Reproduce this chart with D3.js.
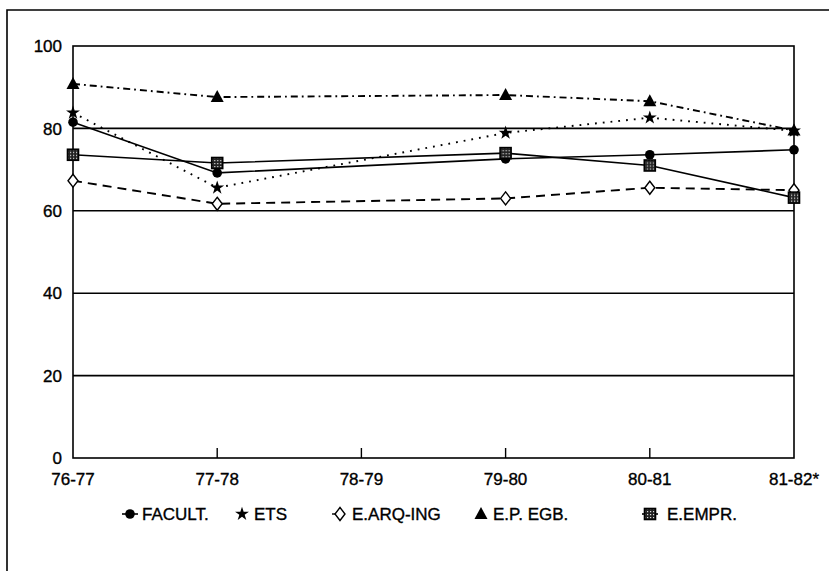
<!DOCTYPE html>
<html><head><meta charset="utf-8">
<script src="https://cdn.jsdelivr.net/npm/d3@7"></script>
<style>
html,body{margin:0;padding:0;background:#fff;}
svg{display:block;}
text{font-family:"Liberation Sans",Arial,Helvetica,sans-serif;fill:#000;stroke:#000;stroke-width:0.35px;}
</style></head>
<body>
<svg id="c" width="829" height="571"></svg>
<script>
const categories = ["76-77","77-78","78-79","79-80","80-81","81-82*"];
const yTicks = [0,20,40,60,80,100];
const seriesNames = ["FACULT.","ETS","E.ARQ-ING","E.P. EGB.","E.EMPR."];
const facult = [81.5, 69.2, null, 72.6, 73.6, 74.8];
const ets    = [83.8, 65.6, null, 78.9, 82.6, 79.4];
const arq    = [67.3, 61.7, null, 63.0, 65.6, 65.0];
const egb    = [90.8, 87.6, null, 88.1, 86.6, 79.5];
const empr   = [73.6, 71.6, null, 74.0, 71.0, 63.2];

const series = [
  {name: seriesNames[0], values: facult, dash: null, marker: "circle"},
  {name: seriesNames[1], values: ets, dash: "1.8,6", marker: "star"},
  {name: seriesNames[2], values: arq, dash: "9,6", marker: "diamond"},
  {name: seriesNames[3], values: egb, dash: "7,4,1.8,4", marker: "triangle"},
  {name: seriesNames[4], values: empr, dash: null, marker: "square"}
];

const svg = d3.select("#c");
const defs = svg.append("defs");
const pat = defs.append("pattern").attr("id","chk").attr("width",3).attr("height",3).attr("patternUnits","userSpaceOnUse");
pat.append("rect").attr("width",3).attr("height",3).attr("fill","#222");
pat.append("rect").attr("width",1.2).attr("height",1.2).attr("fill","#ddd");

const L = 73, R = 794, T = 46, B = 458;
const x = d3.scalePoint().domain(categories).range([L, R]);
const y = d3.scaleLinear().domain([0,100]).range([B, T]);

// outer frame
svg.append("path").attr("d", `M7,571 L7,10 L829,10`).attr("fill","none").attr("stroke","#000").attr("stroke-width",1.6);

// gridlines
svg.append("g").selectAll("line").data(yTicks.filter(v => v>0 && v<100)).join("line")
  .attr("x1", L).attr("x2", R).attr("y1", d=>y(d)).attr("y2", d=>y(d))
  .attr("stroke","#000").attr("stroke-width",1.6);

// plot frame
svg.append("rect").attr("x",L).attr("y",y(100)).attr("width",R-L).attr("height",y(0)-y(100))
  .attr("fill","none").attr("stroke","#000").attr("stroke-width",1.6);

// x ticks (upward)
svg.append("g").selectAll("line").data(categories.slice(1,-1)).join("line")
  .attr("x1", d=>x(d)).attr("x2", d=>x(d)).attr("y1", B).attr("y2", B-10)
  .attr("stroke","#000").attr("stroke-width",1.4);

// y labels
svg.append("g").selectAll("text").data(yTicks).join("text")
  .attr("x", L-11).attr("y", d=>y(d)).attr("dy","0.36em")
  .attr("text-anchor","end").attr("font-size",17).text(d=>d);

// x labels
svg.append("g").selectAll("text").data(categories).join("text")
  .attr("x", d=>x(d)).attr("y", 485)
  .attr("text-anchor","middle").attr("font-size",17).text(d=>d);

const line = d3.line().x(d=>x(d.c)).y(d=>y(d.v));

function markerPath(g, type, cx, cy) {
  const sel = g.append("g").attr("transform", `translate(${cx},${cy})`);
  if (type === "circle") {
    sel.append("circle").attr("r",4.8).attr("fill","#000");
  } else if (type === "star") {
    sel.append("path").attr("d", d3.symbol().type(d3.symbolStar).size(60)()).attr("fill","#000");
  } else if (type === "diamond") {
    sel.append("path").attr("d","M0,-6.5 L5,0 L0,6.5 L-5,0 Z").attr("fill","#fff").attr("stroke","#000").attr("stroke-width",1.4);
  } else if (type === "triangle") {
    sel.append("path").attr("d","M0,-7 L6.5,5 L-6.5,5 Z").attr("fill","#000");
  } else if (type === "square") {
    sel.append("rect").attr("x",-5.5).attr("y",-5.5).attr("width",11).attr("height",11)
      .attr("fill","url(#chk)").attr("stroke","#000").attr("stroke-width",1.6);
  }
}

const gLines = svg.append("g");
series.forEach(s => {
  const pts = s.values.map((v,i)=>({c: categories[i], v})).filter(d => d.v !== null);
  gLines.append("path").attr("d", line(pts)).attr("fill","none").attr("stroke","#000")
    .attr("stroke-width", s.dash ? 1.9 : 1.6).attr("stroke-dasharray", s.dash);
});
const gM = svg.append("g");
series.forEach(s => {
  s.values.forEach((v,i) => { if (v !== null) markerPath(gM, s.marker, x(categories[i]), y(v)); });
});

// legend
const legendX = [130, 242, 340, 481, 650];
const legendY = 514;
const gL = svg.append("g");
series.forEach((s,i) => {
  const cx = legendX[i];
  if (s.marker === "circle" || s.marker === "square") {
    gL.append("line").attr("x1",cx-8).attr("x2",cx+8).attr("y1",legendY).attr("y2",legendY).attr("stroke","#000").attr("stroke-width",1.6);
  } else if (s.marker === "diamond") {
    gL.append("line").attr("x1",cx-8).attr("x2",cx).attr("y1",legendY).attr("y2",legendY).attr("stroke","#000").attr("stroke-width",1.4);
  }
  markerPath(gL, s.marker, cx, legendY);
  gL.append("text").attr("x", cx + (s.marker === "square" ? 17 : 12)).attr("y", legendY).attr("dy","0.36em")
    .attr("font-size",17).text(s.name);
});
</script>
</body></html>
